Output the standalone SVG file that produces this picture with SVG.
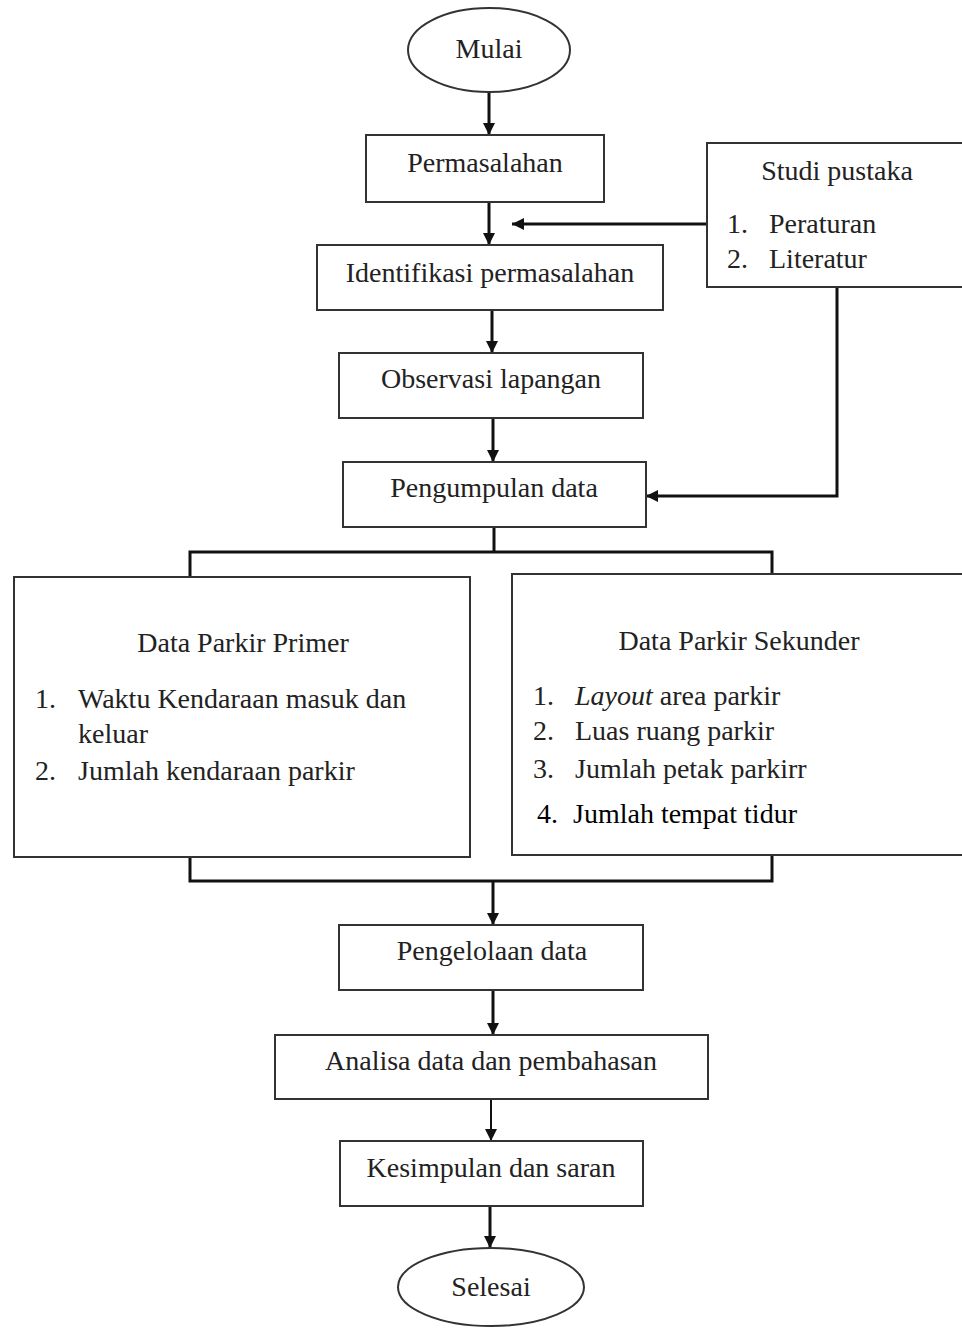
<svg xmlns="http://www.w3.org/2000/svg" width="962" height="1328" viewBox="0 0 962 1328">
<style>
.box{fill:#fff;stroke:#333;stroke-width:2}
.t{font-family:"Liberation Serif","Times New Roman",serif;font-size:28px;fill:#222}
.c{text-anchor:middle}
.ln{fill:none;stroke:#111;stroke-width:3}
.arr{fill:none;stroke:#111;stroke-width:3;marker-end:url(#ah)}
</style>
<defs>
<marker id="ah" markerUnits="userSpaceOnUse" markerWidth="14" markerHeight="14" refX="12" refY="6" orient="auto">
<path d="M0,0 L12,6 L0,12 Z" fill="#111"/>
</marker>
</defs>
<rect width="962" height="1328" fill="#fff"/>
<g id="connectors">
<path class="arr" d="M489,93 V135"/>
<path class="arr" d="M489,202 V245"/>
<path class="arr" d="M707,224 H512"/>
<path class="arr" d="M492,310 V353"/>
<path class="arr" d="M493,418 V462"/>
<path class="arr" d="M837,287 V496 H646"/>
<path class="ln" d="M494,527 V552"/>
<path class="ln" d="M190,576 V552 H772 V574"/>
<path class="ln" d="M190,857 V881 H772 V855"/>
<path class="arr" d="M493,881 V925"/>
<path class="arr" d="M493,990 V1035"/>
<path class="arr" d="M491,1099 V1141" style="stroke-width:2"/>
<path class="arr" d="M490,1206 V1248"/>
</g>
<g id="mulai">
<ellipse class="box" cx="489" cy="50" rx="81" ry="42"/>
<text class="t c" x="489" y="58">Mulai</text>
</g>
<g id="permasalahan">
<rect class="box" x="366" y="135" width="238" height="67"/>
<text class="t c" x="485" y="172">Permasalahan</text>
</g>
<g id="identifikasi">
<rect class="box" x="317" y="245" width="346" height="65"/>
<text class="t c" x="490" y="282">Identifikasi permasalahan</text>
</g>
<g id="studi">
<rect class="box" x="707" y="143" width="270" height="144"/>
<text class="t c" x="837" y="180">Studi pustaka</text>
<text class="t" x="727" y="233">1.</text>
<text class="t" x="769" y="233">Peraturan</text>
<text class="t" x="727" y="268">2.</text>
<text class="t" x="769" y="268">Literatur</text>
</g>
<g id="observasi">
<rect class="box" x="339" y="353" width="304" height="65"/>
<text class="t c" x="491" y="388">Observasi lapangan</text>
</g>
<g id="pengumpulan">
<rect class="box" x="343" y="462" width="303" height="65"/>
<text class="t c" x="494" y="497">Pengumpulan data</text>
</g>
<g id="primer">
<rect class="box" x="14" y="577" width="456" height="280"/>
<text class="t c" x="243" y="652">Data Parkir Primer</text>
<text class="t" x="35" y="708">1.</text>
<text class="t" x="78" y="708">Waktu Kendaraan masuk dan</text>
<text class="t" x="78" y="743">keluar</text>
<text class="t" x="35" y="780">2.</text>
<text class="t" x="78" y="780">Jumlah kendaraan parkir</text>
</g>
<g id="sekunder">
<rect class="box" x="512" y="574" width="460" height="281"/>
<text class="t c" x="739" y="650">Data Parkir Sekunder</text>
<text class="t" x="533" y="705">1.</text>
<text class="t" x="575" y="705"><tspan font-style="italic">Layout</tspan> area parkir</text>
<text class="t" x="533" y="740">2.</text>
<text class="t" x="575" y="740">Luas ruang parkir</text>
<text class="t" x="533" y="778">3.</text>
<text class="t" x="575" y="778">Jumlah petak parkirr</text>
<text class="t" x="537" y="823" style="fill:#000">4.</text>
<text class="t" x="573" y="823" style="fill:#000">Jumlah tempat tidur</text>
</g>
<g id="pengelolaan">
<rect class="box" x="339" y="925" width="304" height="65"/>
<text class="t c" x="492" y="960">Pengelolaan data</text>
</g>
<g id="analisa">
<rect class="box" x="275" y="1035" width="433" height="64"/>
<text class="t c" x="491" y="1070">Analisa data dan pembahasan</text>
</g>
<g id="kesimpulan">
<rect class="box" x="340" y="1141" width="303" height="65"/>
<text class="t c" x="491" y="1177">Kesimpulan dan saran</text>
</g>
<g id="selesai">
<ellipse class="box" cx="491" cy="1287" rx="93" ry="39"/>
<text class="t c" x="491" y="1296">Selesai</text>
</g>
</svg>
